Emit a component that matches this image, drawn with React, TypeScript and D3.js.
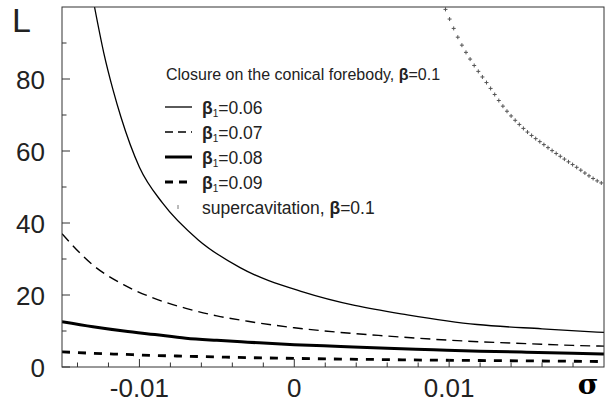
import React, { useEffect, useRef } from "react";
import * as d3 from "d3";

const W = 605;
const H = 408;
const plot = { left: 62, right: 604, top: 7, bottom: 367 };

// beta1 = 0.06 (thin solid)
const sigma06 = [-0.0129, -0.0123, -0.0117, -0.0112, -0.01, -0.0085, -0.0062, -0.0035, 0.0006, 0.0039, 0.0073, 0.0118, 0.016, 0.02];
const L06 = [100, 87.2, 76.9, 69.5, 55.5, 45.5, 35.3, 27.6, 20.8, 17.1, 14.5, 11.8, 10.6, 9.6];

// common sigma grid for beta1 = 0.07, 0.08, 0.09
const sigmaGrid = [-0.015, -0.013, -0.011, -0.009, -0.007, -0.005, -0.003, 0, 0.003, 0.006, 0.009, 0.012, 0.015, 0.018, 0.02];
const L07 = [37, 28.3, 22.8, 19.0, 16.3, 14.2, 12.7, 10.9, 9.6, 8.6, 7.7, 7.0, 6.5, 6.0, 5.8];
const L08 = [12.6, 11.2, 10.0, 9.0, 8.0, 7.4, 6.9, 6.2, 5.7, 5.2, 4.8, 4.4, 4.1, 3.8, 3.6];
const L09 = [4.2, 3.8, 3.5, 3.2, 3.0, 2.8, 2.6, 2.4, 2.2, 2.05, 1.9, 1.8, 1.7, 1.6, 1.5];

// supercavitation, beta = 0.1
const sigmaSuper = [0.0097, 0.0107, 0.01146, 0.01253, 0.0135, 0.01479, 0.0163, 0.01802, 0.01989, 0.02];
const LSuper = [100, 90.4, 84.8, 78.3, 72.3, 66.3, 61.2, 56.1, 51.0, 50.8];

const yTicks = [0, 20, 40, 60, 80];
const yMinor = [10, 30, 50, 70, 90];
const xTicks = [-0.01, 0, 0.01];
const xTickLabels = ["-0.01", "0", "0.01"];
const xMinor = [-0.014, -0.012, -0.008, -0.006, -0.004, -0.002, 0.002, 0.004, 0.006, 0.008, 0.012, 0.014, 0.016, 0.018];
const legendBetas = ["0.06", "0.07", "0.08", "0.09"];

const x = d3.scaleLinear().domain([-0.015, 0.02]).range([plot.left, plot.right]);
const y = d3.scaleLinear().domain([0, 100]).range([plot.bottom, plot.top]);

const styles = [
  { width: 1.3, dash: "" },
  { width: 1.4, dash: "10 6" },
  { width: 3, dash: "" },
  { width: 2.8, dash: "8 8" },
];

function linePath(xs: number[], ls: number[]) {
  const pts = xs.map((s, i) => [x(s), y(ls[i])] as [number, number]);
  return d3.line().curve(d3.curveMonotoneX)(pts) || "";
}

export default function App() {
  const superRef = useRef<SVGPathElement>(null);
  const markRef = useRef<SVGGElement>(null);

  useEffect(() => {
    const p = superRef.current;
    const g = markRef.current;
    if (!p || !g) return;
    const total = p.getTotalLength();
    const x0 = p.getPointAtLength(0).x;
    const x1 = p.getPointAtLength(total).x;
    const sel = d3.select(g);
    sel.selectAll("*").remove();
    const step = 4.1;
    for (let xv = x0 + 1; xv <= x1; xv += step) {
      let lo = 0, hi = total;
      for (let k = 0; k < 30; k++) {
        const mid = (lo + hi) / 2;
        if (p.getPointAtLength(mid).x < xv) lo = mid; else hi = mid;
      }
      const pt = p.getPointAtLength((lo + hi) / 2);
      if (pt.y < plot.top) continue;
      sel.append("path")
        .attr("d", `M${pt.x - 2},${pt.y}h4M${pt.x},${pt.y - 2}v4`)
        .attr("stroke", "#555")
        .attr("stroke-width", 1)
        .attr("fill", "none");
    }
  }, []);

  const series = [
    { xs: sigma06, ls: L06 },
    { xs: sigmaGrid, ls: L07 },
    { xs: sigmaGrid, ls: L08 },
    { xs: sigmaGrid, ls: L09 },
  ];

  const font = "'Liberation Sans', Arial, Helvetica, sans-serif";
  const legendY0 = 107;
  const legendDy = 25;

  return (
    <svg width={W} height={H} style={{ position: "absolute", left: 0, top: 0, background: "#fff" }} fontFamily={font}>
      <defs>
        <clipPath id="plotclip">
          <rect x={plot.left} y={plot.top} width={plot.right - plot.left} height={plot.bottom - plot.top} />
        </clipPath>
      </defs>
      <rect x={0} y={0} width={W} height={H} fill="#fff" />

      {/* curves */}
      <g clipPath="url(#plotclip)" fill="none" stroke="#000">
        {series.map((s, i) => (
          <path key={i} d={linePath(s.xs, s.ls)} strokeWidth={styles[i].width} strokeDasharray={styles[i].dash || undefined} />
        ))}
        <path ref={superRef} d={linePath(sigmaSuper, LSuper)} stroke="none" />
        <g ref={markRef} />
      </g>

      {/* frame */}
      <rect x={plot.left} y={plot.top} width={plot.right - plot.left} height={plot.bottom - plot.top} fill="none" stroke="#333" strokeWidth={1} />

      {/* ticks */}
      <g stroke="#333" strokeWidth={1}>
        {yTicks.map((t) => (
          <line key={"ym" + t} x1={plot.left} x2={plot.left + 8} y1={y(t)} y2={y(t)} />
        ))}
        {yMinor.map((t) => (
          <line key={"yn" + t} x1={plot.left} x2={plot.left + 4.5} y1={y(t)} y2={y(t)} />
        ))}
        {xTicks.map((t) => (
          <line key={"xm" + t} x1={x(t)} x2={x(t)} y1={plot.bottom} y2={plot.bottom - 8} />
        ))}
        {xMinor.map((t) => (
          <line key={"xn" + t} x1={x(t)} x2={x(t)} y1={plot.bottom} y2={plot.bottom - 4.5} />
        ))}
      </g>

      {/* y tick labels */}
      <g fontSize={26} fill="#222" textAnchor="end">
        {yTicks.map((t) => (
          <text key={"yl" + t} x={45} y={y(t) + 9.5}>{t}</text>
        ))}
      </g>
      {/* x tick labels */}
      <g fontSize={26} fill="#222" textAnchor="middle">
        {xTicks.map((t, i) => (
          <text key={"xl" + t} x={x(t)} y={397}>{xTickLabels[i]}</text>
        ))}
      </g>

      {/* axis titles */}
      <text x={12} y={32} fontSize={34} fill="#222">L</text>
      <text x={588} y={394} fontSize={28} fontWeight="bold" textAnchor="middle" fill="#000" fontFamily="'DejaVu Serif', serif">σ</text>

      {/* legend */}
      <text x={166} y={80} fontSize={16} fill="#222">
        Closure on the conical forebody, <tspan fontWeight="bold">β</tspan>=0.1
      </text>
      {legendBetas.map((b, i) => {
        const ly = legendY0 + i * legendDy;
        return (
          <g key={"lg" + b}>
            <line x1={165} x2={192} y1={ly} y2={ly} stroke="#000" strokeWidth={styles[i].width} strokeDasharray={styles[i].dash ? (i === 1 ? "8 5" : "8 6") : undefined} />
            <text x={202} y={ly + 6.5} fontSize={17.5} fill="#222">
              <tspan fontWeight="bold">β</tspan>
              <tspan fontSize={10} dy={3}>1</tspan>
              <tspan dy={-3}>={b}</tspan>
            </text>
          </g>
        );
      })}
      <g stroke="#777" strokeWidth={1}>
        <line x1={178} x2={178} y1={legendY0 + 4 * legendDy - 2} y2={legendY0 + 4 * legendDy + 2} />
      </g>
      <text x={202} y={legendY0 + 4 * legendDy + 6.5} fontSize={17.5} fill="#222">
        supercavitation, <tspan fontWeight="bold">β</tspan>=0.1
      </text>
    </svg>
  );
}
